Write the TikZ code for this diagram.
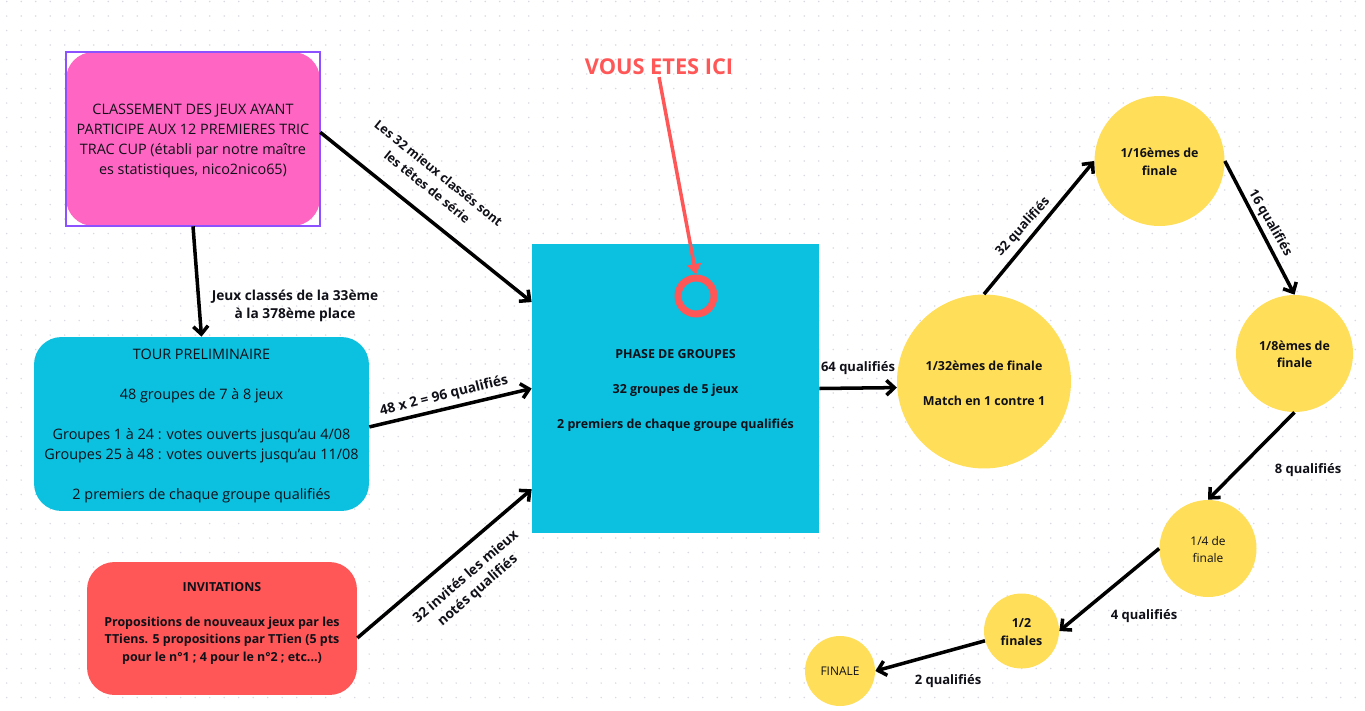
\documentclass[tikz,border=0pt]{standalone}
\usepackage{fontspec}
\usetikzlibrary{arrows.meta}
\setmainfont{Open Sans}
\definecolor{pinkbox}{HTML}{FF66C4}
\definecolor{purpleline}{HTML}{8C52FF}
\definecolor{bluebox}{HTML}{0CC0DF}
\definecolor{redbox}{HTML}{FF5757}
\definecolor{yellowdisc}{HTML}{FFDE59}
\definecolor{griddot}{HTML}{D9D9E3}
\definecolor{inktext}{HTML}{101018}
\newcommand{\liftreg}{\rule{0pt}{8.1pt}}
\newcommand{\liftbold}{\rule{0pt}{7.4pt}}
\newcommand{\liftdisc}{\rule{0pt}{6.5pt}}
\tikzset{
    regtext/.style={font=\fontsize{8.2pt}{11.34pt}\selectfont, text=inktext, align=center},
    smalltext/.style={font=\fontsize{6.8pt}{9.9pt}\selectfont, text=inktext, align=center},
    smallbold/.style={font=\fontsize{7.08pt}{9.9pt}\selectfont\bfseries, text=inktext, align=center},
    lab/.style={font=\fontsize{7.4pt}{10.2pt}\selectfont\bfseries, text=inktext, align=center, inner sep=0pt},
    bigger/.style={font=\fontsize{7.8pt}{10.2pt}\selectfont\bfseries},
    box/.style={rounded corners=0.55cm, inner sep=0pt},
    disc/.style={circle, fill=yellowdisc, inner sep=0pt},
    arrow/.style={->, >={Straight Barb[length=4.5pt, width=8.4pt]}, line width=2pt, black},
    redarrow/.style={-{Triangle[length=6pt, width=8pt]}, line width=2pt, redbox}
}
\begin{document}
\begin{tikzpicture}[x=0.02cm, y=-0.02cm]
        \path[use as bounding box, fill=white] (0,0) rectangle (1365,710);
        \foreach \i in {0,...,93} {
            \foreach \j in {0,...,48} {
                \fill[griddot] ({6.7+14.5*\i},{1.5+14.5*\j}) circle (0.8);
            }
        }
        \node[box, fill=pinkbox, regtext, minimum width=5.08cm, minimum height=3.48cm] (classement) at (193,139) {\liftreg CLASSEMENT DES JEUX AYANT\\PARTICIPE AUX 12 PREMIERES TRIC\\TRAC CUP (établi par notre maître\\es statistiques, nico2nico65)};
        \draw[purpleline, line width=1.3pt] (classement.north west) rectangle (classement.south east);
        \node[box, fill=bluebox, regtext, minimum width=6.7cm, minimum height=3.48cm] (tour) at (201.5,424) {\liftreg TOUR PRELIMINAIRE\\~\\48 groupes de 7 à 8 jeux\\~\\Groupes 1 à 24 : votes ouverts jusqu’au 4/08\\Groupes 25 à 48 : votes ouverts jusqu’au 11/08\\~\\2 premiers de chaque groupe qualifiés};
        \node[box, fill=redbox, smallbold, minimum width=5.4cm, minimum height=2.66cm] (invitations) at (222,628.5) {\liftbold INVITATIONS\\~\\Propositions de nouveaux jeux par les\\TTiens. 5 propositions par TTien (5 pts\\pour le n°1 ; 4 pour le n°2 ; etc...)\\~};
        \node[fill=bluebox, smallbold, inner sep=0pt, minimum width=5.74cm, minimum height=5.78cm] (groupes) at (675.5,388.5) {\liftbold PHASE DE GROUPES\\~\\32 groupes de 5 jeux\\~\\2 premiers de chaque groupe qualifiés};
        \node[circle, draw=redbox, line width=7*0.5669pt, inner sep=0pt, minimum size=0.72cm] (ring) at (696,296) {};
        \node[font=\fontsize{12.4pt}{14pt}\selectfont\bfseries, text=redbox, inner sep=1pt] (ici) at (659,67) {VOUS ETES ICI};
        \node[disc, smallbold, minimum size=3.48cm] (d32) at (984,381.5) {\liftbold 1/32èmes de finale\\~\\Match en 1 contre 1};
        \node[disc, smallbold, minimum size=2.6cm] (d16) at (1159.5,161) {\liftdisc 1/16èmes de\\finale};
        \node[disc, smallbold, minimum size=2.34cm] (d8) at (1294.5,353.5) {\liftdisc 1/8èmes de\\finale};
        \node[disc, smalltext, minimum size=1.94cm] (d4) at (1208,548.5) {\liftdisc 1/4 de\\finale};
        \node[disc, smallbold, minimum size=1.5cm] (d2) at (1021.5,631) {\liftdisc 1/2\\finales};
        \node[disc, smalltext, minimum size=1.4cm] (finale) at (840,671) {FINALE};
        \draw[arrow] (classement.south) -- (tour.north);
        \draw[arrow] (classement.3.6) -- (groupes.149.6);
        \draw[arrow] (tour.-1.7) -- (groupes.west);
        \draw[arrow] (invitations.-4.9) -- (groupes.215.3);
        \draw[arrow] (groupes.east) -- (d32.184.3);
        \draw[arrow] (d32.north) -- (d16.west);
        \draw[arrow] (d16.east) -- (d8.north);
        \draw[arrow] (d8.south) -- (d4.north);
        \draw[arrow] (d4.west) -- (d2.east);
        \draw[arrow] (d2.195) -- (finale.east);
        \draw[redarrow] (ici.south) -- (ring.north);
        \node[lab, bigger] (labsuite) at (295,305.5) {Jeux classés de la 33ème\\à la 378ème place};
        \node[lab, rotate=-39, font=\fontsize{7.2pt}{10.2pt}\selectfont\bfseries] (labtetes) at (433,180) {Les 32 mieux classés sont\\les têtes de série};
        \node[lab, bigger, rotate=14] (labprelim) at (444,396) {48 x 2 = 96 qualifiés};
        \node[lab, bigger, rotate=41] (labinvites) at (472,584) {32 invités les mieux\\notés qualifiés};
        \node[lab] (lab64) at (858,368) {64 qualifiés};
        \node[lab, rotate=48] (lab32) at (1023,227) {32 qualifiés};
        \node[lab, rotate=-60] (lab16) at (1270,223) {16 qualifiés};
        \node[lab] (lab8) at (1308,470.5) {8 qualifiés};
        \node[lab] (lab4) at (1144,616) {4 qualifiés};
        \node[lab] (lab2) at (948,681) {2 qualifiés};
    \end{tikzpicture}
\end{document}
